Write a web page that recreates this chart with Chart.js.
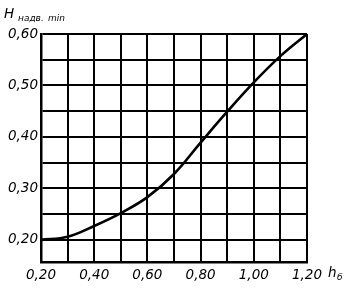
<!DOCTYPE html>
<html>
<head>
<meta charset="utf-8">
<script src="https://cdn.jsdelivr.net/npm/chart.js@4"></script>
<style>
  html, body { margin: 0; padding: 0; background: #fff; }
  #wrap { width: 350px; height: 289px; }
</style>
</head>
<body>
<div id="wrap"><canvas id="hChart" width="350" height="289"></canvas></div>
<script>
// values
const hValues = [0.20, 0.30, 0.40, 0.50, 0.60, 0.70, 0.80, 0.90, 1.00, 1.10, 1.20];
const hMin = [0.200, 0.206, 0.227, 0.252, 0.283, 0.328, 0.389, 0.449, 0.506, 0.557, 0.600];

const xGrid = [0.2, 0.3, 0.4, 0.5, 0.6, 0.7, 0.8, 0.9, 1.0, 1.1, 1.2];
const xLabels = ['0,20', '0,40', '0,60', '0,80', '1,00', '1,20'];
const yGrid = [0.20, 0.25, 0.30, 0.35, 0.40, 0.45, 0.50, 0.55, 0.60];
const yLabels = ['0,20', '0,30', '0,40', '0,50', '0,60'];

const tickFont = { family: 'DejaVu Sans', size: 13.5, style: 'italic' };

function fmt(v) {
  return v.toFixed(2).replace('.', ',');
}

// axis names drawn as text with subscripts
const axisNames = {
  id: 'axisNames',
  afterDraw(chart) {
    const c = chart.ctx;
    c.save();
    c.fillStyle = '#000';
    c.textBaseline = 'alphabetic';
    c.font = 'italic 13.5px "DejaVu Sans"';
    c.fillText('H', 4, 18);
    c.font = 'italic 9px "DejaVu Sans"';
    c.fillText('надв.', 18, 21);
    c.fillText('min', 48, 21);
    c.font = 'italic 13.5px "DejaVu Sans"';
    c.fillText('h', 328, 277);
    c.font = 'italic 9px "DejaVu Sans"';
    c.fillText('б', 337, 280);
    c.restore();
  }
};

new Chart(document.getElementById('hChart'), {
  type: 'line',
  data: {
    datasets: [{
      data: hValues.map((x, i) => ({ x: x, y: hMin[i] })),
      borderColor: '#000',
      borderWidth: 2.6,
      pointRadius: 0,
      fill: false,
      tension: 0.4
    }]
  },
  options: {
    responsive: false,
    animation: false,
    layout: { padding: { left: 0, right: 43, top: 34, bottom: 0 } },
    plugins: { legend: { display: false }, tooltip: { enabled: false } },
    scales: {
      x: {
        type: 'linear',
        min: 0.2,
        max: 1.2,
        afterBuildTicks(scale) { scale.ticks = xGrid.map(v => ({ value: v })); },
        afterFit(scale) { scale.height = 27; },
        grid: { color: '#000', lineWidth: 2, drawTicks: false },
        border: { color: '#000', width: 2.5 },
        ticks: {
          color: '#000',
          font: tickFont,
          padding: 5,
          maxRotation: 0,
          autoSkip: false,
          callback: v => xLabels.includes(fmt(v)) ? fmt(v) : ''
        }
      },
      y: {
        min: 0.157,
        max: 0.60,
        afterBuildTicks(scale) { scale.ticks = yGrid.map(v => ({ value: v })); },
        afterFit(scale) { scale.width = 41; },
        grid: { color: '#000', lineWidth: 2, drawTicks: false },
        border: { color: '#000', width: 2.5 },
        ticks: {
          color: '#000',
          font: tickFont,
          padding: 3,
          autoSkip: false,
          callback: v => yLabels.includes(fmt(v)) ? fmt(v) : ''
        }
      }
    }
  },
  plugins: [axisNames]
});
</script>
</body>
</html>
